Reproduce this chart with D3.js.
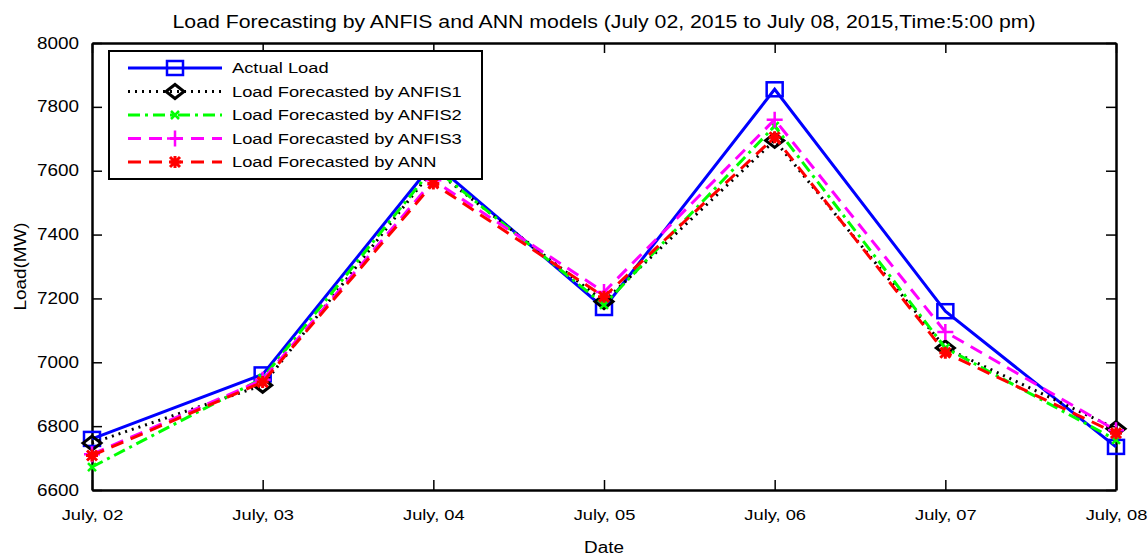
<!DOCTYPE html>
<html>
<head>
<meta charset="utf-8">
<script src="https://cdn.jsdelivr.net/npm/d3@7"></script>
<style>
  body { margin: 0; background: #fff; }
  svg { display: block; font-family: "Liberation Sans", Arial, sans-serif; }
</style>
</head>
<body>
<div id="chart"></div>
<script>
const dates = ["July, 02", "July, 03", "July, 04", "July, 05", "July, 06", "July, 07", "July, 08"];
const actualLoad = [6760, 6962, 7625, 7170, 7855, 7160, 6735];
const anfis1 = [6747, 6928, 7605, 7190, 7695, 7045, 6792];
const anfis2 = [6672, 6950, 7610, 7180, 7740, 7045, 6757];
const anfis3 = [6712, 6945, 7570, 7220, 7760, 7095, 6787];
const ann = [6708, 6938, 7560, 7205, 7705, 7030, 6778];
const yTicks = [6600, 6800, 7000, 7200, 7400, 7600, 7800, 8000];

const width = 1148, height = 559;
const margin = { top: 43, right: 32, bottom: 69, left: 92 };
const innerW = width - margin.left - margin.right;
const innerH = height - margin.top - margin.bottom;
const stretch = 1.18; // the original text is a bit wide

const series = [
    { name: "Actual Load", values: actualLoad, color: "#0000ff", dash: null, marker: "square" },
    { name: "Load Forecasted by ANFIS1", values: anfis1, color: "#000000", dash: "2,5", marker: "diamond" },
    { name: "Load Forecasted by ANFIS2", values: anfis2, color: "#00ff00", dash: "12,5,3,5", marker: "cross" },
    { name: "Load Forecasted by ANFIS3", values: anfis3, color: "#ff00ff", dash: "13,8", marker: "plus" },
    { name: "Load Forecasted by ANN", values: ann, color: "#ff0000", dash: "13,8", marker: "star" }
];

const svg = d3.select("#chart").append("svg")
    .attr("width", width)
    .attr("height", height);

const g = svg.append("g")
    .attr("transform", `translate(${margin.left},${margin.top})`);

const x = d3.scalePoint().domain(dates).range([0, innerW]);
const y = d3.scaleLinear().domain([6600, 8000]).range([innerH, 0]);

// axes with inward ticks
g.append("g")
    .attr("class", "x-axis")
    .attr("transform", `translate(0,${innerH})`)
    .call(d3.axisBottom(x).tickSizeInner(-10).tickSizeOuter(0).tickPadding(19));
g.append("g")
    .call(d3.axisTop(x).tickSizeInner(-10).tickSizeOuter(0).tickFormat(""));
g.append("g")
    .call(d3.axisLeft(y).tickValues(yTicks).tickFormat(d3.format("d")).tickSizeInner(-10).tickSizeOuter(0).tickPadding(13));
g.append("g")
    .attr("transform", `translate(${innerW},0)`)
    .call(d3.axisRight(y).tickValues(yTicks).tickSizeInner(-10).tickSizeOuter(0).tickFormat(""));
g.selectAll(".domain").attr("stroke", "#000").attr("stroke-width", 2.5);
g.selectAll(".tick line").attr("stroke", "#000").attr("stroke-width", 1.5);
g.selectAll(".tick text")
    .attr("fill", "#000")
    .attr("font-family", "'Liberation Sans', Arial, sans-serif")
    .attr("font-size", 16);
g.selectAll(".x-axis .tick text").attr("font-size", 15.5);

function drawMarker(sel, type, color) {
    if (type === "square") {
        sel.append("rect").attr("x", -8).attr("y", -7).attr("width", 16).attr("height", 14)
            .attr("fill", "none").attr("stroke", color).attr("stroke-width", 2.5);
    } else if (type === "diamond") {
        sel.append("path").attr("d", "M-9,0L0,-7L9,0L0,7Z")
            .attr("fill", "none").attr("stroke", color).attr("stroke-width", 3);
    } else if (type === "cross") {
        sel.append("path").attr("d", "M-4,-4L4,4M-4,4L4,-4")
            .attr("stroke", color).attr("stroke-width", 2.5);
    } else if (type === "plus") {
        sel.append("path").attr("d", "M-8,0L8,0M0,-8L0,8")
            .attr("stroke", color).attr("stroke-width", 2.5);
    } else if (type === "star") {
        sel.append("path").attr("d", "M-6,0L6,0M0,-6L0,6M-5,-5L5,5M-5,5L5,-5")
            .attr("stroke", color).attr("stroke-width", 3);
    }
}

const line = d3.line()
    .x((d, i) => x(dates[i]))
    .y(d => y(d));

series.forEach(s => {
    g.append("path")
        .datum(s.values)
        .attr("d", line)
        .attr("fill", "none")
        .attr("stroke", s.color)
        .attr("stroke-width", 3)
        .attr("stroke-dasharray", s.dash);
    s.values.forEach((v, i) => {
        const m = g.append("g").attr("transform", `translate(${x(dates[i])},${y(v)})`);
        drawMarker(m, s.marker, s.color);
    });
});

// legend
const legend = svg.append("g").attr("transform", "translate(109,51)");
legend.append("rect")
    .attr("width", 373).attr("height", 128)
    .attr("fill", "#fff").attr("stroke", "#000").attr("stroke-width", 2);
series.forEach((s, i) => {
    const row = legend.append("g").attr("transform", `translate(0,${17 + i * 23.5})`);
    row.append("line")
        .attr("x1", 19).attr("x2", 113)
        .attr("stroke", s.color).attr("stroke-width", 3)
        .attr("stroke-dasharray", s.dash);
    drawMarker(row.append("g").attr("transform", "translate(66,0)"), s.marker, s.color);
    row.append("text")
        .attr("x", 123).attr("dy", "0.35em")
        .attr("font-size", 15.5)
        .text(s.name);
});

// title and axis labels
svg.append("text")
    .attr("class", "title")
    .attr("x", margin.left + innerW / 2).attr("y", 28)
    .attr("text-anchor", "middle").attr("font-size", 17.5)
    .text("Load Forecasting by ANFIS and ANN models (July 02, 2015 to July 08, 2015,Time:5:00 pm)");
svg.append("text")
    .attr("x", margin.left + innerW / 2).attr("y", 553)
    .attr("text-anchor", "middle").attr("font-size", 16)
    .text("Date");
svg.append("text")
    .attr("transform", `translate(26,${margin.top + innerH / 2}) rotate(-90)`)
    .attr("text-anchor", "middle").attr("font-size", 16)
    .text("Load(MW)");

// widen all text a little, like the original
svg.selectAll("text").each(function () {
    const w = this.getComputedTextLength();
    d3.select(this)
        .attr("textLength", w * stretch)
        .attr("lengthAdjust", "spacingAndGlyphs");
});
svg.select("text.title").attr("textLength", 863);
</script>
</body>
</html>
